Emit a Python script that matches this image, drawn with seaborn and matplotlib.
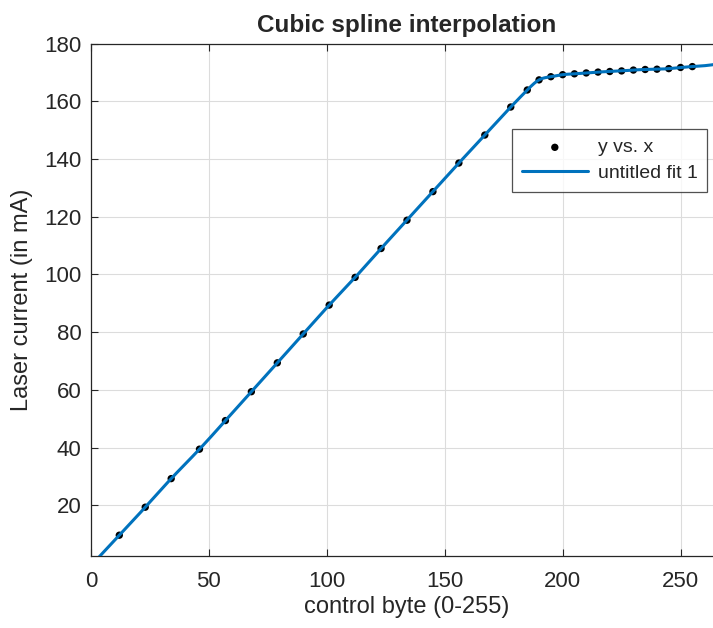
import numpy as np
import pandas as pd
import matplotlib
matplotlib.use('Agg')
import matplotlib.pyplot as plt
import seaborn as sns

control_byte = [12, 23, 34, 46, 57, 68, 79, 90, 101, 112, 123, 134, 145, 156, 167, 178,
                185, 190, 195, 200, 205, 210, 215, 220, 225, 230, 235, 240, 245, 250, 255]
laser_current = [9.7, 19.4, 29.3, 39.5, 49.4, 59.4, 69.4, 79.4, 89.4, 99.0, 109.0, 118.8,
                 128.7, 138.6, 148.3, 158.0, 163.9, 167.4, 168.5, 169.2, 169.5, 169.8,
                 170.1, 170.3, 170.5, 170.8, 171.0, 171.1, 171.3, 171.7, 172.0]
x_ticks = [0, 50, 100, 150, 200, 250]
y_ticks = [20, 40, 60, 80, 100, 120, 140, 160, 180]


def natural_spline(x, y, xq):
    # plain natural cubic spline, end pieces extended for extrapolation
    x = np.asarray(x, float)
    y = np.asarray(y, float)
    n = len(x)
    h = np.diff(x)
    A = np.zeros((n, n))
    r = np.zeros(n)
    A[0, 0] = A[-1, -1] = 1
    for i in range(1, n - 1):
        A[i, i - 1] = h[i - 1]
        A[i, i] = 2 * (h[i - 1] + h[i])
        A[i, i + 1] = h[i]
        r[i] = 6 * ((y[i + 1] - y[i]) / h[i] - (y[i] - y[i - 1]) / h[i - 1])
    M = np.linalg.solve(A, r)
    k = np.clip(np.searchsorted(x, xq) - 1, 0, n - 2)
    hk = h[k]
    a = x[k + 1] - xq
    b = xq - x[k]
    return (M[k] * a**3 / (6 * hk) + M[k + 1] * b**3 / (6 * hk)
            + (y[k] / hk - M[k] * hk / 6) * a + (y[k + 1] / hk - M[k + 1] * hk / 6) * b)


pts = pd.DataFrame({'x': control_byte, 'y': laser_current})
xq = np.linspace(0, 268, 600)
fit = pd.DataFrame({'x': xq, 'y': natural_spline(control_byte, laser_current, xq)})

sns.set_style('ticks')
plt.rcParams['font.family'] = ['Liberation Sans', 'DejaVu Sans']

fig = plt.figure(figsize=(7.13, 6.28), dpi=100)
ax = fig.add_axes([91 / 713, 1 - 556 / 628, 632 / 713, 512.5 / 628])

sns.scatterplot(data=pts, x='x', y='y', color='black', s=28, edgecolor='none',
                label='y vs. x', ax=ax, zorder=3)
sns.lineplot(data=fit, x='x', y='y', color='#0072BD', linewidth=2.2,
             label='untitled fit 1', ax=ax, zorder=4)

ax.set(xlim=(0, 268), ylim=(2.5, 180))
ax.set_xticks(x_ticks)
ax.set_yticks(y_ticks)
ax.grid(True, color='#dcdcdc', linewidth=0.8)
ax.set_axisbelow(True)
ax.tick_params(direction='in', length=5, width=0.8, colors='#262626',
               labelsize=16, top=True, right=True)
ax.tick_params(axis='x', pad=11)
ax.tick_params(axis='y', pad=7)
for s in ax.spines.values():
    s.set_color('#262626')
    s.set_linewidth(0.9)

ax.set_title('Cubic spline interpolation', fontsize=17.5, fontweight='bold', pad=8)
ax.set_xlabel('control byte (0-255)', fontsize=17, color='#262626', labelpad=3)
ax.set_ylabel('Laser current (in mA)', fontsize=17, color='#262626', labelpad=8)

leg = ax.legend(loc='upper right', bbox_to_anchor=(0.975, 0.833), fontsize=14,
                frameon=True, fancybox=False, edgecolor='#262626', handlelength=3.4,
                borderpad=0.5, labelspacing=0.4, handletextpad=0.5, borderaxespad=0)
leg.get_frame().set_linewidth(0.9)

fig.savefig('out.png', dpi=100)
